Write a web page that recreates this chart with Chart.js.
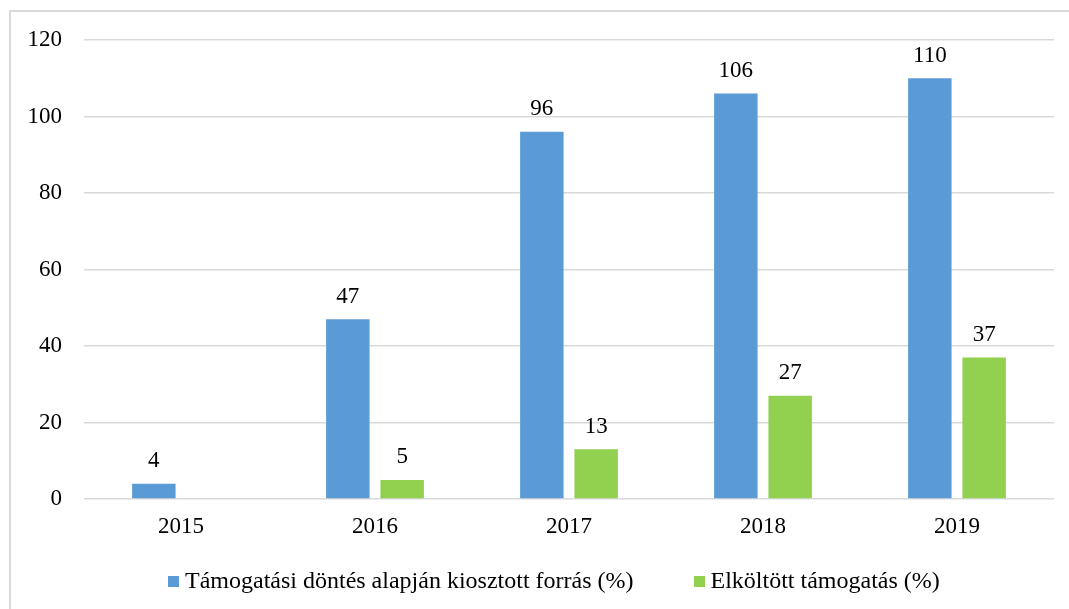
<!DOCTYPE html>
<html>
<head>
<meta charset="utf-8">
<script src="https://cdn.jsdelivr.net/npm/chart.js@4"></script>
<style>
  html, body { margin: 0; padding: 0; overflow: hidden; background: #fff; }
  #frame { position: absolute; left: 9px; top: 10px; width: 1100px; height: 650px; border: 2px solid #d9d9d9; }
  #wrap { position: absolute; left: 0; top: 0; width: 1069px; height: 609px; }
  #legend { position: absolute; left: 168px; top: 566px; height: 28px; white-space: nowrap;
            font-family: 'Liberation Serif', 'Times New Roman', serif; font-size: 24px; line-height: 28px; color: #000; }
  #legend .item { display: inline-block; }
  #legend .box { display: inline-block; width: 11px; height: 11px; margin-right: 6px; vertical-align: 1px; }
</style>
</head>
<body>
<div id="frame"></div>
<div id="wrap"><canvas id="myChart"></canvas></div>
<div id="legend"></div>
<script>
const years = ['2015', '2016', '2017', '2018', '2019'];
const kiosztott = [4, 47, 96, 106, 110];
const elkoltott = [null, 5, 13, 27, 37];
const yTicks = [0, 20, 40, 60, 80, 100, 120];

const serif = "'Liberation Serif', 'Times New Roman', serif";

// value labels above the bars
const barLabels = {
    id: 'barLabels',
    afterDatasetsDraw(chart) {
        const c = chart.ctx;
        c.save();
        c.font = '23px ' + serif;
        c.fillStyle = '#000';
        c.textAlign = 'center';
        c.textBaseline = 'bottom';
        chart.data.datasets.forEach((ds, i) => {
            chart.getDatasetMeta(i).data.forEach((bar, j) => {
                if (ds.data[j] == null) return;
                c.fillText(ds.data[j], bar.x, bar.y - 11);
            });
        });
        c.restore();
    }
};

const ctx = document.getElementById('myChart').getContext('2d');
const myChart = new Chart(ctx, {
    type: 'bar',
    data: {
        labels: years,
        datasets: [
            {
                label: 'Támogatási döntés alapján kiosztott forrás (%)',
                data: kiosztott,
                backgroundColor: '#5B9BD5',
                categoryPercentage: 0.56,
                barPercentage: 0.8
            },
            {
                label: 'Elköltött támogatás (%)',
                data: elkoltott,
                backgroundColor: '#92D050',
                categoryPercentage: 0.56,
                barPercentage: 0.8
            }
        ]
    },
    options: {
        responsive: true,
        maintainAspectRatio: false,
        animation: false,
        layout: { padding: { top: 40, left: 0, right: 15, bottom: 49 } },
        plugins: {
            legend: { display: false },
            tooltip: { enabled: false }
        },
        scales: {
            x: {
                grid: { display: false },
                border: { display: false },
                ticks: { font: { family: serif, size: 23 }, color: '#000', padding: 6 },
                afterFit(scale) { scale.height = 61; }
            },
            y: {
                min: 0,
                max: 120,
                afterBuildTicks(scale) { scale.ticks = yTicks.map(v => ({ value: v })); },
                grid: { color: '#d9d9d9', lineWidth: 1.5, drawTicks: false },
                border: { display: false },
                ticks: { font: { family: serif, size: 23 }, color: '#000', padding: 22 },
                afterFit(scale) { scale.width = 84; }
            }
        }
    },
    plugins: [barLabels]
});

// legend built from the datasets
const legendEl = document.getElementById('legend');
myChart.data.datasets.forEach((ds, i) => {
    const item = document.createElement('span');
    item.className = 'item';
    if (i > 0) item.style.marginLeft = '60px';
    const box = document.createElement('span');
    box.className = 'box';
    box.style.background = ds.backgroundColor;
    item.appendChild(box);
    item.appendChild(document.createTextNode(ds.label));
    legendEl.appendChild(item);
});
</script>
</body>
</html>
